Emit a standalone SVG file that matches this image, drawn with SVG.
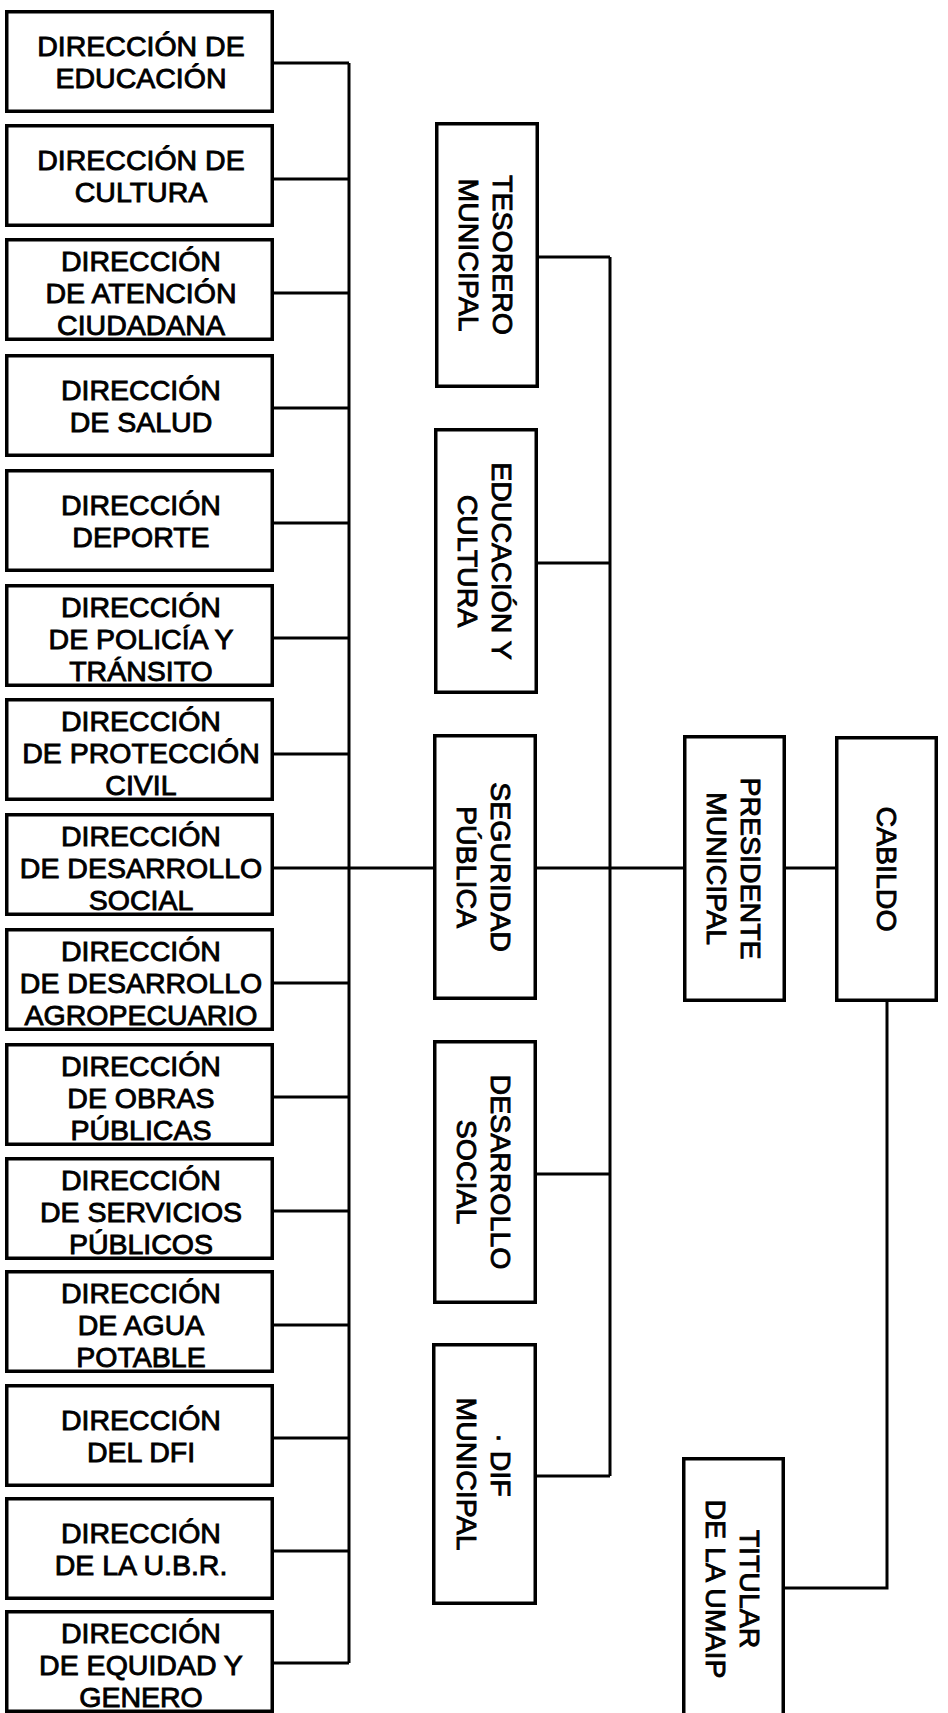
<svg xmlns="http://www.w3.org/2000/svg" width="948" height="1713" viewBox="0 0 948 1713">
<style>
.box{fill:#fff;stroke:#000;stroke-width:3.5}
.t{font-family:"Liberation Sans",Arial,sans-serif;font-size:28.5px;fill:#000;stroke:#000;stroke-width:0.9;text-anchor:middle}
.c{fill:none;stroke:#000;stroke-width:3}
</style>
<rect x="0" y="0" width="948" height="1713" fill="#fff"/>
<g id="connectors" class="c">
<path d="M349,63 V1663"/>
<path d="M274,63 H349 M274,179 H349 M274,293 H349 M274,408 H349 M274,523 H349 M274,638 H349 M274,754 H349 M274,868 H349 M274,983 H349 M274,1097 H349 M274,1211 H349 M274,1325 H349 M274,1438 H349 M274,1551 H349 M274,1663 H349"/>
<path d="M349,868 H434"/>
<path d="M610,257 V1476"/>
<path d="M538,257 H610 M537,563 H610 M537,868 H683 M537,1174 H610 M537,1476 H610"/>
<path d="M786,868 H835"/>
<path d="M887,1002 V1588 H785"/>
</g>
<g id="n1"><rect class="box" x="6.75" y="11.75" width="265.5" height="99.5"/><text class="t"><tspan x="141" y="55.5">DIRECCIÓN DE</tspan><tspan x="141" y="88">EDUCACIÓN</tspan></text></g>
<g id="n2"><rect class="box" x="6.75" y="125.75" width="265.5" height="99.5"/><text class="t"><tspan x="141" y="169.5">DIRECCIÓN DE</tspan><tspan x="141" y="202">CULTURA</tspan></text></g>
<g id="n3"><rect class="box" x="6.75" y="239.75" width="265.5" height="99.5"/><text class="t"><tspan x="141" y="271">DIRECCIÓN</tspan><tspan x="141" y="303">DE ATENCIÓN</tspan><tspan x="141" y="335">CIUDADANA</tspan></text></g>
<g id="n4"><rect class="box" x="6.75" y="355.75" width="265.5" height="99.5"/><text class="t"><tspan x="141" y="399.5">DIRECCIÓN</tspan><tspan x="141" y="432">DE SALUD</tspan></text></g>
<g id="n5"><rect class="box" x="6.75" y="470.75" width="265.5" height="99.5"/><text class="t"><tspan x="141" y="514.5">DIRECCIÓN</tspan><tspan x="141" y="547">DEPORTE</tspan></text></g>
<g id="n6"><rect class="box" x="6.75" y="585.75" width="265.5" height="99.5"/><text class="t"><tspan x="141" y="617">DIRECCIÓN</tspan><tspan x="141" y="649">DE POLICÍA Y</tspan><tspan x="141" y="681">TRÁNSITO</tspan></text></g>
<g id="n7"><rect class="box" x="6.75" y="699.75" width="265.5" height="99.5"/><text class="t"><tspan x="141" y="731">DIRECCIÓN</tspan><tspan x="141" y="763">DE PROTECCIÓN</tspan><tspan x="141" y="795">CIVIL</tspan></text></g>
<g id="n8"><rect class="box" x="6.75" y="814.75" width="265.5" height="99.5"/><text class="t"><tspan x="141" y="846">DIRECCIÓN</tspan><tspan x="141" y="878">DE DESARROLLO</tspan><tspan x="141" y="910">SOCIAL</tspan></text></g>
<g id="n9"><rect class="box" x="6.75" y="929.75" width="265.5" height="99.5"/><text class="t"><tspan x="141" y="961">DIRECCIÓN</tspan><tspan x="141" y="993">DE DESARROLLO</tspan><tspan x="141" y="1025">AGROPECUARIO</tspan></text></g>
<g id="n10"><rect class="box" x="6.75" y="1044.75" width="265.5" height="99.5"/><text class="t"><tspan x="141" y="1076">DIRECCIÓN</tspan><tspan x="141" y="1108">DE OBRAS</tspan><tspan x="141" y="1140">PÚBLICAS</tspan></text></g>
<g id="n11"><rect class="box" x="6.75" y="1158.75" width="265.5" height="99.5"/><text class="t"><tspan x="141" y="1190">DIRECCIÓN</tspan><tspan x="141" y="1222">DE SERVICIOS</tspan><tspan x="141" y="1254">PÚBLICOS</tspan></text></g>
<g id="n12"><rect class="box" x="6.75" y="1271.75" width="265.5" height="99.5"/><text class="t"><tspan x="141" y="1303">DIRECCIÓN</tspan><tspan x="141" y="1335">DE AGUA</tspan><tspan x="141" y="1367">POTABLE</tspan></text></g>
<g id="n13"><rect class="box" x="6.75" y="1385.75" width="265.5" height="99.5"/><text class="t"><tspan x="141" y="1429.5">DIRECCIÓN</tspan><tspan x="141" y="1462">DEL DFI</tspan></text></g>
<g id="n14"><rect class="box" x="6.75" y="1498.75" width="265.5" height="99.5"/><text class="t"><tspan x="141" y="1542.5">DIRECCIÓN</tspan><tspan x="141" y="1575">DE LA U.B.R.</tspan></text></g>
<g id="n15"><rect class="box" x="6.75" y="1611.75" width="265.5" height="99.5"/><text class="t"><tspan x="141" y="1643">DIRECCIÓN</tspan><tspan x="141" y="1675">DE EQUIDAD Y</tspan><tspan x="141" y="1707">GENERO</tspan></text></g>
<g id="tesorero"><rect class="box" x="436.75" y="123.75" width="100.5" height="262.5"/><text class="t" transform="translate(487,255) rotate(90)"><tspan x="0" y="-6">TESORERO</tspan><tspan x="0" y="28">MUNICIPAL</tspan></text></g>
<g id="educacion-cultura"><rect class="box" x="435.75" y="429.75" width="100.5" height="262.5"/><text class="t" transform="translate(486,561) rotate(90)"><tspan x="0" y="-6">EDUCACIÓN Y</tspan><tspan x="0" y="28">CULTURA</tspan></text></g>
<g id="seguridad"><rect class="box" x="434.75" y="735.75" width="100.5" height="262.5"/><text class="t" transform="translate(485,867) rotate(90)"><tspan x="0" y="-6">SEGURIDAD</tspan><tspan x="0" y="28">PÚBLICA</tspan></text></g>
<g id="desarrollo-social"><rect class="box" x="434.75" y="1041.75" width="100.5" height="260.5"/><text class="t" transform="translate(485,1172) rotate(90)"><tspan x="0" y="-6">DESARROLLO</tspan><tspan x="0" y="28">SOCIAL</tspan></text></g>
<g id="dif"><rect class="box" x="433.75" y="1344.75" width="101.5" height="258.5"/><text class="t" transform="translate(484.5,1474) rotate(90)"><tspan x="-9" y="-6">· DIF</tspan><tspan x="0" y="28">MUNICIPAL</tspan></text></g>
<g id="presidente"><rect class="box" x="684.75" y="736.75" width="99.5" height="263.5"/><text class="t" transform="translate(734.5,868.5) rotate(90)"><tspan x="0" y="-6">PRESIDENTE</tspan><tspan x="0" y="28">MUNICIPAL</tspan></text></g>
<g id="cabildo"><rect class="box" x="836.75" y="737.75" width="99.5" height="262.5"/><text class="t" transform="translate(886.5,869) rotate(90)"><tspan x="0" y="10">CABILDO</tspan></text></g>
<g id="titular"><rect class="box" x="683.75" y="1458.75" width="99.5" height="270"/><text class="t" transform="translate(733.5,1589) rotate(90)"><tspan x="0" y="-6">TITULAR</tspan><tspan x="0" y="28">DE LA UMAIP</tspan></text></g>
</svg>
